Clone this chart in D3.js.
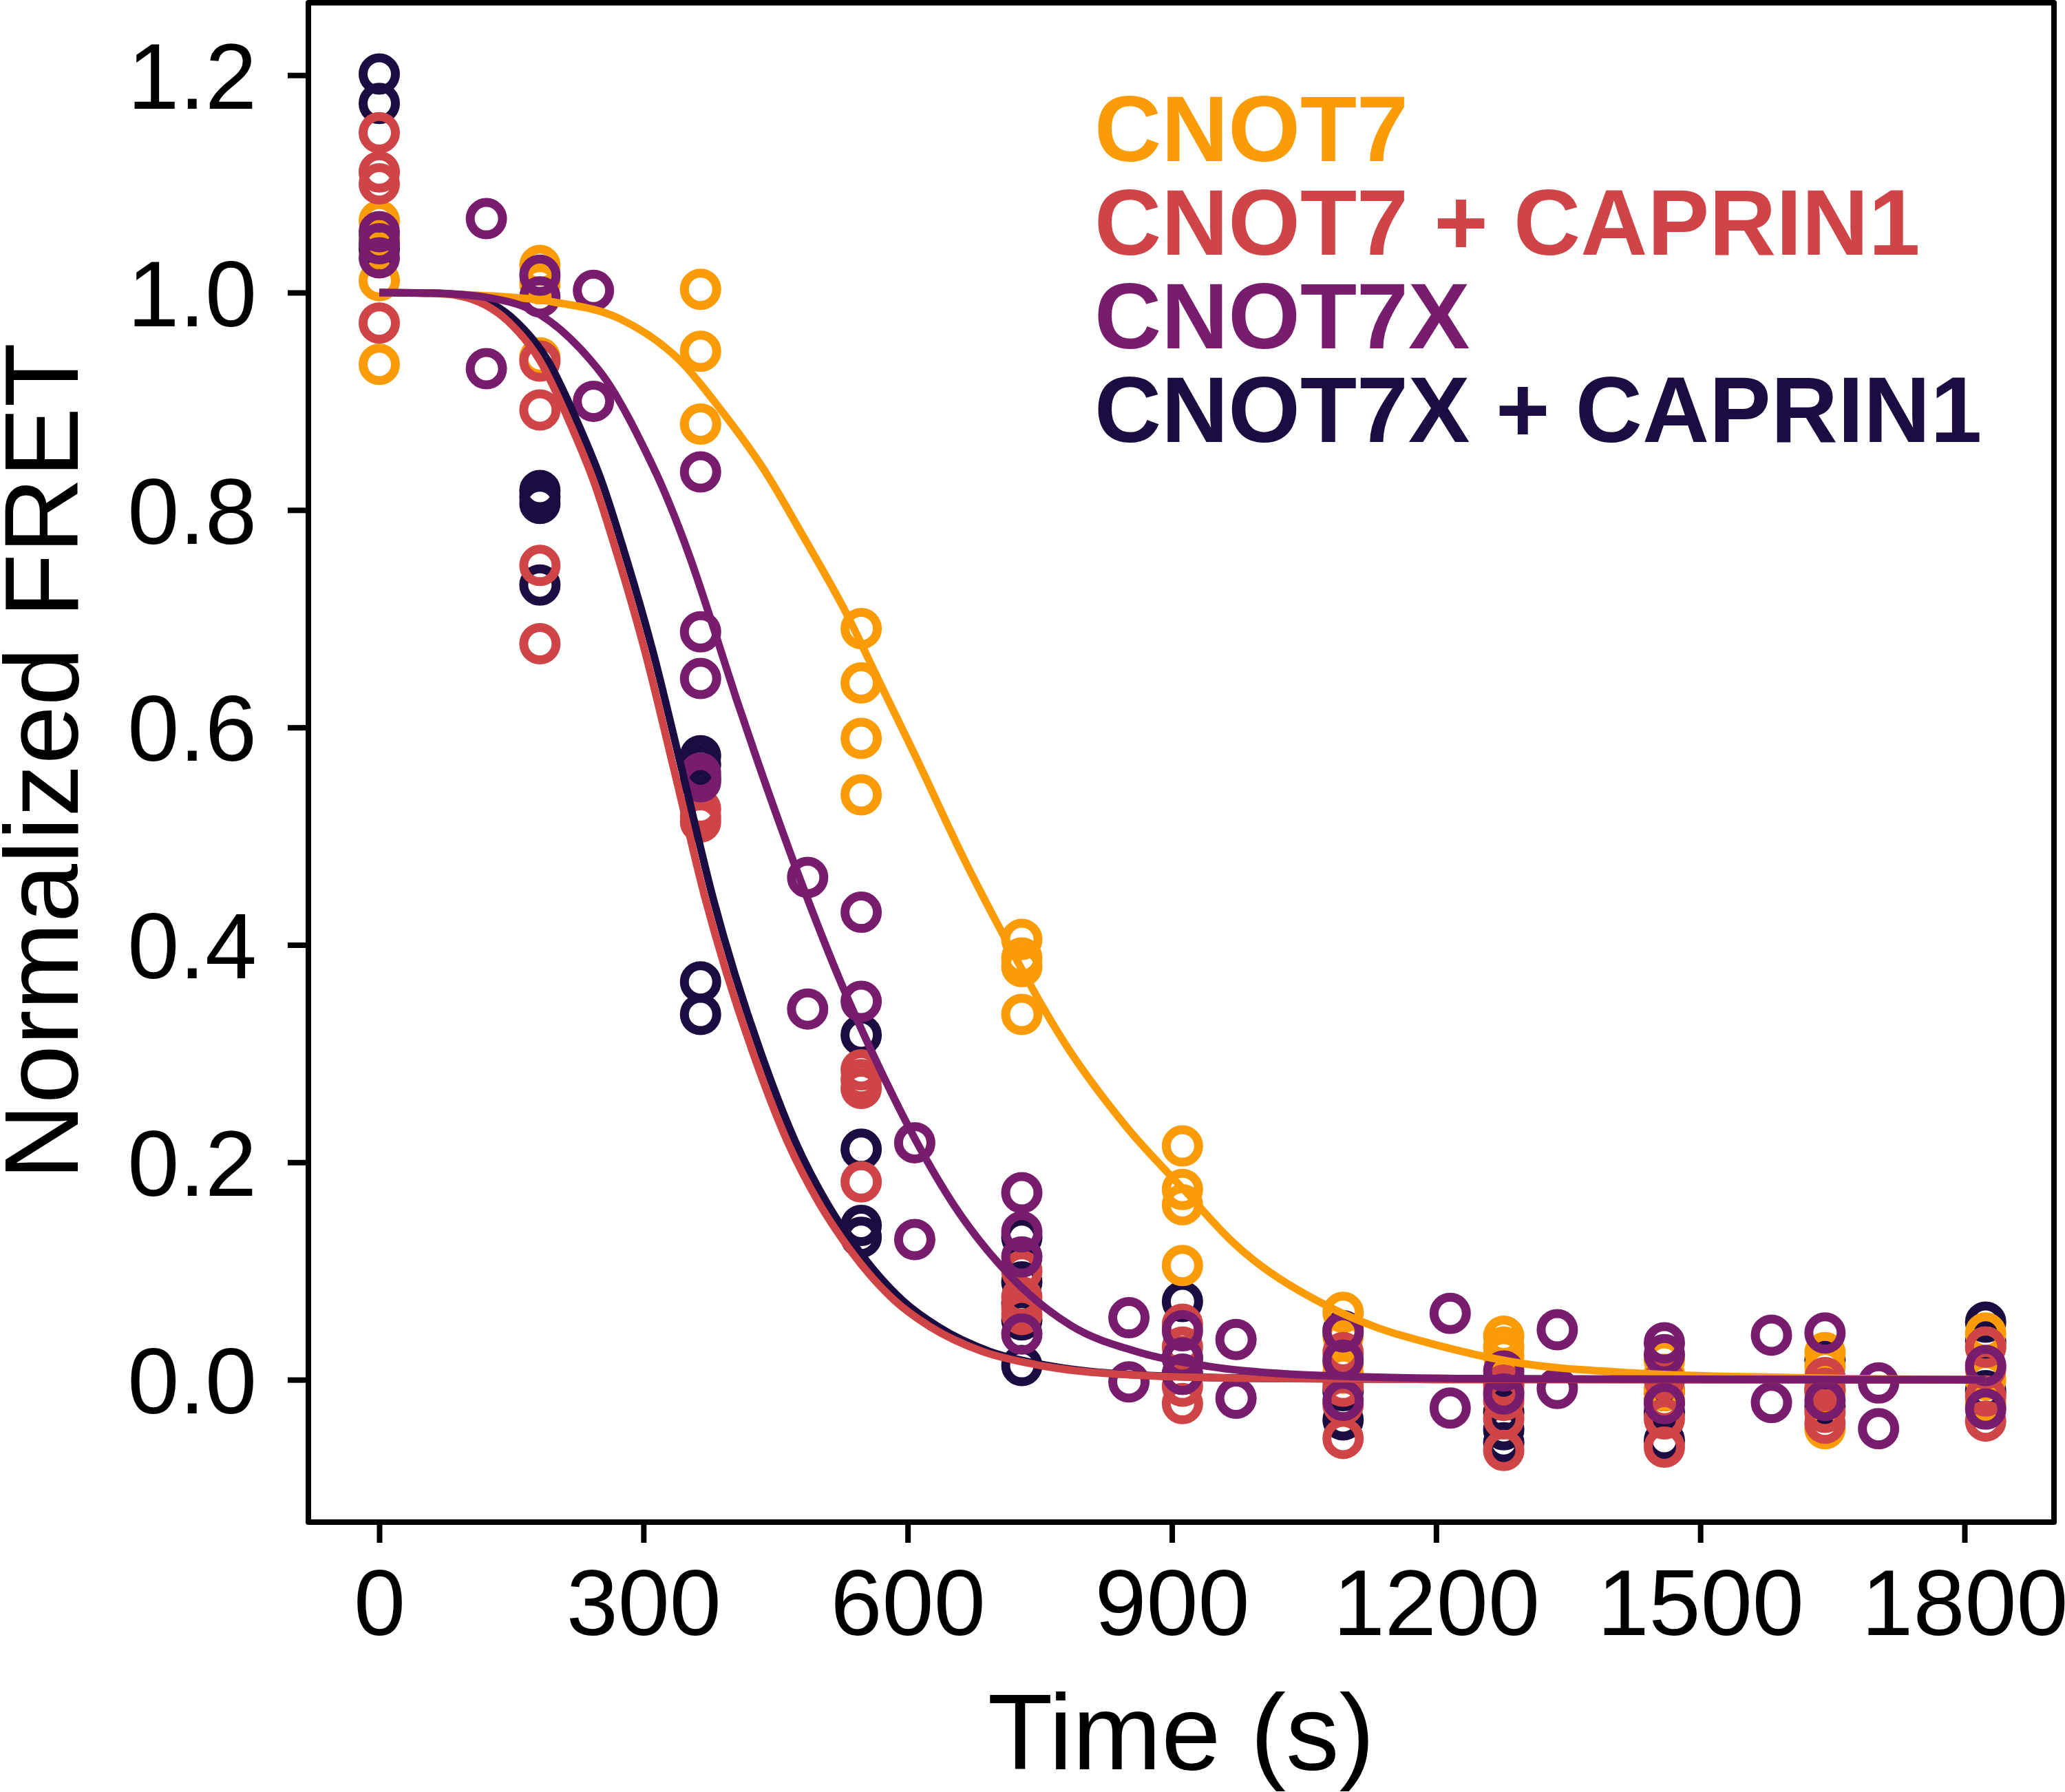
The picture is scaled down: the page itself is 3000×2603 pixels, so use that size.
<!DOCTYPE html>
<html>
<head>
<meta charset="utf-8">
<script src="https://cdn.jsdelivr.net/npm/d3@7"></script>
<style>
  html, body { margin: 0; padding: 0; background: #ffffff; }
  svg { display: block; }
  text { font-family: "Liberation Sans", Arial, Helvetica, sans-serif; }
</style>
</head>
<body>
<svg id="chart" width="3000" height="2603"></svg>
<script>
// ---------------- DATA ----------------
const seriesNames  = ["CNOT7", "CNOT7 + CAPRIN1", "CNOT7X", "CNOT7X + CAPRIN1"];
const seriesColors = ["#FB9B06", "#CF4446", "#781C6D", "#1B0C41"];

const xTicks = [0, 300, 600, 900, 1200, 1500, 1800];
const yTicks = [0, 0.2, 0.4, 0.6, 0.8, 1.0, 1.2];

const timesMain   = [0, 182.4, 364.8, 547.2, 729.6, 912, 1094.4, 1276.8, 1459.2, 1641.6, 1824];
const timesCnot7x = [0, 121.6, 182.4, 243.2, 364.8, 486.4, 547.2, 608, 729.6, 851.2, 912, 972.8,
                     1094.4, 1216, 1276.8, 1337.6, 1459.2, 1580.8, 1641.6, 1702.4, 1824];

// replicate values at each time
const cnot7Values = [
  [1.066, 1.048, 1.011, 0.934],
  [1.025, 1.008, 0.940],
  [1.003, 0.946, 0.879],
  [0.691, 0.641, 0.590, 0.538],
  [0.405, 0.388, 0.380, 0.336],
  [0.215, 0.175, 0.161, 0.105],
  [0.062, 0.040, 0.015, 0.006],
  [0.040, 0.030, 0.022, -0.010],
  [0.018, 0.005, -0.010, -0.020],
  [0.025, 0.012, -0.012, -0.045],
  [0.043, 0.030, 0.000, -0.022]
];
const cnot7CaprinValues = [
  [1.147, 1.111, 1.100, 0.972],
  [0.937, 0.892, 0.749, 0.677],
  [0.525, 0.518, 0.513],
  [0.285, 0.276, 0.268, 0.182],
  [0.100, 0.076, 0.066, 0.060],
  [0.051, 0.030, -0.006, -0.022],
  [0.025, -0.006, -0.023, -0.054],
  [-0.005, -0.019, -0.036, -0.065],
  [0.000, -0.020, -0.036, -0.062],
  [0.002, -0.008, -0.030, -0.040],
  [0.030, 0.010, -0.015, -0.038]
];
const cnot7xValues = [
  [1.056, 1.045, 1.032],
  [1.068, 0.930],
  [1.016, 0.996],
  [1.002, 0.900],
  [0.835, 0.688, 0.645, 0.558, 0.550],
  [0.462, 0.341],
  [0.430, 0.348],
  [0.218, 0.129],
  [0.172, 0.136, 0.113, 0.042],
  [0.057, -0.002],
  [0.045, 0.020, 0.005],
  [0.037, -0.017],
  [0.044, 0.018, -0.019],
  [0.061, -0.026],
  [0.008, -0.013],
  [0.046, -0.008],
  [0.034, 0.023, -0.022],
  [0.041, -0.021],
  [0.043, -0.019],
  [-0.003, -0.045],
  [0.013, -0.027]
];
const cnot7xCaprinValues = [
  [1.201, 1.174, 1.050, 1.040],
  [0.818, 0.812, 0.806, 0.731],
  [0.574, 0.566, 0.553, 0.366, 0.336],
  [0.317, 0.212, 0.142, 0.131],
  [0.131, 0.090, 0.070, 0.055, 0.013],
  [0.072, 0.020, 0.005],
  [0.045, -0.010, -0.037],
  [0.002, -0.030, -0.046, -0.058],
  [-0.010, -0.030, -0.056],
  [0.018, -0.010, -0.025],
  [0.053, 0.035, -0.010]
];

// fitted curves
const cnot7CurveT = [0, 100, 200, 273, 342, 388, 437, 482, 531, 569, 608, 667, 708, 778, 848, 918, 966, 1076, 1133, 1200, 1282, 1430, 1600, 1824];
const cnot7CurveV = [1.0, 0.998, 0.991, 0.976, 0.937, 0.892, 0.837, 0.775, 0.704, 0.640, 0.575, 0.474, 0.41, 0.31, 0.233, 0.171, 0.129, 0.068, 0.048, 0.032, 0.017, 0.006, 0.002, 0.0];

const cnot7CaprinCurveT = [0, 60, 91, 147, 182, 217, 245, 266, 301, 335, 370, 429, 464, 499, 527, 585, 625, 685, 745, 864, 1000, 1200, 1824];
const cnot7CaprinCurveV = [1.0, 0.9995, 0.997, 0.973, 0.938, 0.879, 0.823, 0.770, 0.672, 0.560, 0.443, 0.290, 0.218, 0.163, 0.128, 0.073, 0.049, 0.026, 0.014, 0.004, 0.0012, 0.0003, 0.0];

const cnot7xCurveT = [0, 60, 126, 182, 231, 259, 283, 300, 321, 353, 377, 406, 430, 478, 527, 569, 610, 653, 717, 785, 864, 944, 1064, 1250, 1824];
const cnot7xCurveV = [1.0, 0.9995, 0.995, 0.980, 0.946, 0.918, 0.885, 0.858, 0.822, 0.756, 0.698, 0.625, 0.568, 0.460, 0.360, 0.285, 0.219, 0.160, 0.095, 0.050, 0.025, 0.012, 0.004, 0.001, 0.0];

const cnot7xCaprinCurveT = [0, 60, 100, 156, 191, 226, 254, 275, 310, 344, 379, 438, 473, 508, 536, 594, 634, 693, 753, 870, 1005, 1200, 1824];
const cnot7xCaprinCurveV = [1.0, 0.9995, 0.997, 0.973, 0.938, 0.879, 0.823, 0.770, 0.672, 0.560, 0.443, 0.290, 0.218, 0.163, 0.128, 0.073, 0.049, 0.026, 0.014, 0.004, 0.0012, 0.0003, 0.0];

// ---------------- CHART ----------------
const svg = d3.select("#chart");
const FONT = '"Liberation Sans", Arial, Helvetica, sans-serif';

const x = d3.scaleLinear().domain([-80.5, 1901.6]).range([448, 2984]);
const y = d3.scaleLinear().domain([-0.131, 1.2666]).range([2211, 4]);

const series = [
  { name: seriesNames[0], color: seriesColors[0], times: timesMain,   values: cnot7Values,        ct: cnot7CurveT,        cv: cnot7CurveV },
  { name: seriesNames[1], color: seriesColors[1], times: timesMain,   values: cnot7CaprinValues,  ct: cnot7CaprinCurveT,  cv: cnot7CaprinCurveV },
  { name: seriesNames[2], color: seriesColors[2], times: timesCnot7x, values: cnot7xValues,       ct: cnot7xCurveT,       cv: cnot7xCurveV },
  { name: seriesNames[3], color: seriesColors[3], times: timesMain,   values: cnot7xCaprinValues, ct: cnot7xCaprinCurveT, cv: cnot7xCaprinCurveV }
];

// drawing order: dark, orange, red, purple
const drawOrder = [3, 0, 1, 2];

// points
const ptsG = svg.append("g");
drawOrder.forEach(i => {
  const s = series[i];
  const pts = [];
  s.times.forEach((t, k) => s.values[k].forEach(v => pts.push([t, v])));
  ptsG.append("g").selectAll("circle").data(pts).join("circle")
    .attr("cx", d => x(d[0]))
    .attr("cy", d => y(d[1]))
    .attr("r", 23.5)
    .attr("fill", "none")
    .attr("stroke", s.color)
    .attr("stroke-width", 13);
});

// curves
const line = d3.line().x(d => x(d[0])).y(d => y(d[1])).curve(d3.curveMonotoneX);
const curvesG = svg.append("g");
drawOrder.forEach(i => {
  const s = series[i];
  const data = s.ct.map((t, k) => [t, s.cv[k]]);
  curvesG.append("path")
    .attr("d", line(data))
    .attr("fill", "none")
    .attr("stroke", s.color)
    .attr("stroke-width", 11)
    .attr("stroke-linejoin", "round");
});

// axes
const xAxis = d3.axisBottom(x).tickValues(xTicks).tickSize(30).tickSizeOuter(0).tickPadding(38)
  .tickFormat(d3.format("d"));
const gx = svg.append("g").attr("transform", "translate(0,2211)").call(xAxis);
gx.select(".domain").remove();
gx.selectAll(".tick line").attr("stroke", "#000").attr("stroke-width", 8);
gx.selectAll(".tick text").attr("font-size", 135).attr("font-family", FONT).attr("fill", "#000");

const yAxis = d3.axisLeft(y).tickValues(yTicks).tickSize(30).tickSizeOuter(0).tickPadding(45)
  .tickFormat(d3.format(".1f"));
const gy = svg.append("g").attr("transform", "translate(448,0)").call(yAxis);
gy.select(".domain").remove();
gy.selectAll(".tick line").attr("stroke", "#000").attr("stroke-width", 8);
gy.selectAll(".tick text").attr("font-size", 135).attr("font-family", FONT).attr("fill", "#000")
  .attr("dy", "0.358em");

// frame
svg.append("rect")
  .attr("x", 448).attr("y", 4)
  .attr("width", 2984 - 448).attr("height", 2211 - 4)
  .attr("fill", "none").attr("stroke", "#000").attr("stroke-width", 8)
  .attr("stroke-linejoin", "round");

// axis titles
svg.append("text")
  .attr("x", 1716).attr("y", 2570)
  .attr("text-anchor", "middle")
  .attr("font-size", 155).attr("font-family", FONT)
  .text("Time (s)");

svg.append("text")
  .attr("transform", "translate(113,1106) rotate(-90)")
  .attr("text-anchor", "middle")
  .attr("font-size", 153).attr("font-family", FONT)
  .text("Normalized FRET");

// legend
const legendBaselines = [234, 370, 506, 642];
svg.append("g").selectAll("text").data(series).join("text")
  .attr("x", 1590)
  .attr("y", (d, i) => legendBaselines[i])
  .attr("font-size", 134.5)
  .attr("font-weight", "bold")
  .attr("font-family", FONT)
  .attr("fill", d => d.color)
  .text(d => d.name);
</script>
</body>
</html>
